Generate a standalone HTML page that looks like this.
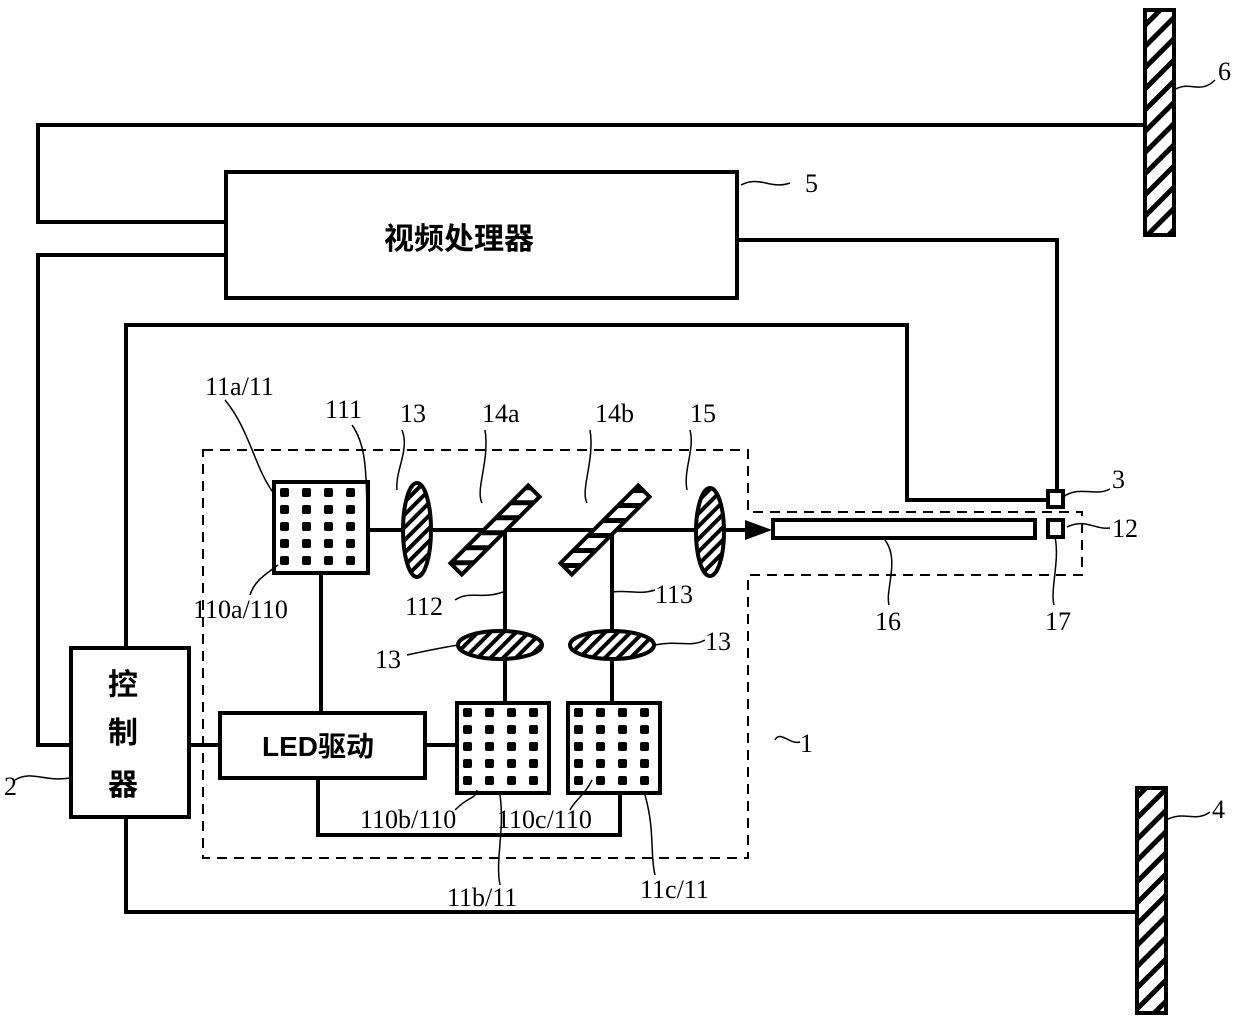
<!DOCTYPE html>
<html><head><meta charset="utf-8"><style>body{margin:0;background:#fff}svg{display:block}text{font-family:"Liberation Serif","Noto Serif CJK SC",serif;font-size:26px;fill:#000}.c{font-family:"Liberation Sans","Noto Sans CJK SC",sans-serif;font-weight:bold;font-size:30px}</style></head><body>
<svg width="1240" height="1025" viewBox="0 0 1240 1025" xmlns="http://www.w3.org/2000/svg">
<defs>
<pattern id="h" width="9" height="9" patternUnits="userSpaceOnUse" patternTransform="rotate(45)"><rect width="9" height="9" fill="#fff"/><rect width="4" height="9" fill="#000"/></pattern>
<pattern id="h2" width="15" height="15" patternUnits="userSpaceOnUse" patternTransform="rotate(45)"><rect width="15" height="15" fill="#fff"/><rect width="5" height="15" fill="#000"/></pattern>
<pattern id="h3" width="15" height="15" patternUnits="userSpaceOnUse" patternTransform="rotate(-45)"><rect width="15" height="15" fill="#fff"/><rect width="5" height="15" fill="#000"/></pattern>
<pattern id="da" x="275" y="487" width="22" height="17" patternUnits="userSpaceOnUse"><rect x="5" y="1" width="9" height="9" rx="2" fill="#000"/></pattern>
<pattern id="db" x="458" y="707" width="22" height="17" patternUnits="userSpaceOnUse"><rect x="5" y="1" width="9" height="9" rx="2" fill="#000"/></pattern>
<pattern id="dc" x="569" y="707" width="22" height="17" patternUnits="userSpaceOnUse"><rect x="5" y="1" width="9" height="9" rx="2" fill="#000"/></pattern>
</defs>
<g fill="none" stroke="#000" stroke-width="4">
<polyline points="1145,125 38,125 38,222 226,222"/>
<polyline points="226,255 38,255 38,745 71,745"/>
<rect x="226" y="172" width="511" height="126"/>
<polyline points="737,240 1057,240 1057,491"/>
<polyline points="126,648 126,325 907,325 907,500 1048,500"/>
<polyline points="126,817 126,912 1137,912"/>
<rect x="71" y="648" width="118" height="169"/>
<rect x="220" y="713" width="205" height="65"/>
<line x1="189" y1="745" x2="220" y2="745"/>
<line x1="425" y1="745" x2="457" y2="745"/>
<line x1="321" y1="573" x2="321" y2="713"/>
<polyline points="318,778 318,835 620,835 620,793"/>
<line x1="368" y1="530" x2="760" y2="530"/>
<line x1="505" y1="532" x2="505" y2="703"/>
<line x1="612" y1="532" x2="612" y2="703"/>
</g>
<polygon points="745,520 772,530 745,540" fill="#000"/>
<polygon points="203,450 748,450 748,512 1082,512 1082,575 748,575 748,858 203,858" fill="none" stroke="#000" stroke-width="2" stroke-dasharray="10,7"/>
<rect x="1145" y="10" width="29" height="225" fill="url(#h2)" stroke="#000" stroke-width="4"/>
<rect x="1137" y="788" width="29" height="225" fill="url(#h2)" stroke="#000" stroke-width="4"/>
<g stroke="#000" stroke-width="4">
<rect x="274" y="482" width="94" height="91" fill="#fff"/>
<rect x="457" y="703" width="92" height="90" fill="#fff"/>
<rect x="568" y="703" width="92" height="90" fill="#fff"/>
<ellipse cx="417" cy="530" rx="14" ry="47" fill="url(#h)"/>
<ellipse cx="710" cy="532" rx="14" ry="44" fill="url(#h)"/>
<ellipse cx="500" cy="645" rx="42" ry="14" fill="url(#h)"/>
<ellipse cx="612" cy="645" rx="42" ry="14" fill="url(#h)"/>
<rect x="440" y="522" width="110" height="16" fill="url(#h3)" transform="rotate(-45 495 530)"/>
<rect x="550" y="522" width="110" height="16" fill="url(#h3)" transform="rotate(-45 605 530)"/>
<rect x="773" y="520" width="262" height="18" fill="#fff"/>
<rect x="1048" y="491" width="15" height="16" fill="#fff"/>
<rect x="1048" y="520" width="15" height="17" fill="#fff"/>
</g>
<rect x="277" y="485" width="88" height="86" fill="url(#da)"/>
<rect x="460" y="706" width="86" height="85" fill="url(#db)"/>
<rect x="571" y="706" width="86" height="85" fill="url(#dc)"/>
<g fill="none" stroke="#000" stroke-width="1.5">
<path d="M225,400 C250,430 255,470 275,495"/>
<path d="M352,425 C370,450 365,490 368,528"/>
<path d="M402,430 C410,450 395,470 397,490"/>
<path d="M485,430 C490,460 475,490 482,503"/>
<path d="M590,430 C595,460 580,490 587,503"/>
<path d="M690,430 C695,450 683,470 687,490"/>
<path d="M250,595 C255,580 265,575 278,565"/>
<path d="M455,600 C470,590 480,600 503,592"/>
<path d="M612,592 C630,590 640,595 655,590"/>
<path d="M407,655 C430,650 440,648 458,645"/>
<path d="M655,645 C680,640 690,648 705,640"/>
<path d="M1063,497 C1080,485 1095,497 1110,489"/>
<path d="M1067,527 C1085,518 1095,530 1110,528"/>
<path d="M885,540 C900,560 885,590 889,605"/>
<path d="M1055,537 C1060,560 1050,590 1054,605"/>
<path d="M775,740 C780,730 790,745 800,742"/>
<path d="M15,780 C30,770 45,782 70,778"/>
<path d="M1174,90 C1190,80 1200,95 1215,80"/>
<path d="M1166,820 C1185,810 1195,823 1210,812"/>
<path d="M741,185 C760,175 770,190 790,183"/>
<path d="M455,810 C470,795 475,800 477,790"/>
<path d="M500,795 C505,830 495,860 500,885"/>
<path d="M570,810 C575,800 585,795 592,780"/>
<path d="M645,795 C655,830 650,855 655,875"/>
</g>
<text class="c" x="384" y="249">视频处理器</text>
<text class="c" x="108" y="695">控</text>
<text class="c" x="108" y="743">制</text>
<text class="c" x="108" y="795">器</text>
<text class="c" x="262" y="756" style="font-size:28px">LED驱动</text>
<text x="205" y="395">11a/11</text>
<text x="325" y="418">111</text>
<text x="400" y="422">13</text>
<text x="482" y="422">14a</text>
<text x="595" y="422">14b</text>
<text x="690" y="422">15</text>
<text x="193" y="618">110a/110</text>
<text x="405" y="615">112</text>
<text x="655" y="603">113</text>
<text x="375" y="668">13</text>
<text x="705" y="650">13</text>
<text x="1112" y="488">3</text>
<text x="1112" y="537">12</text>
<text x="875" y="630">16</text>
<text x="1045" y="630">17</text>
<text x="1218" y="80">6</text>
<text x="1212" y="818">4</text>
<text x="805" y="192">5</text>
<text x="800" y="752">1</text>
<text x="4" y="795">2</text>
<text x="360" y="828">110b/110</text>
<text x="497" y="828">110c/110</text>
<text x="447" y="906">11b/11</text>
<text x="640" y="898">11c/11</text>
</svg>
</body></html>
